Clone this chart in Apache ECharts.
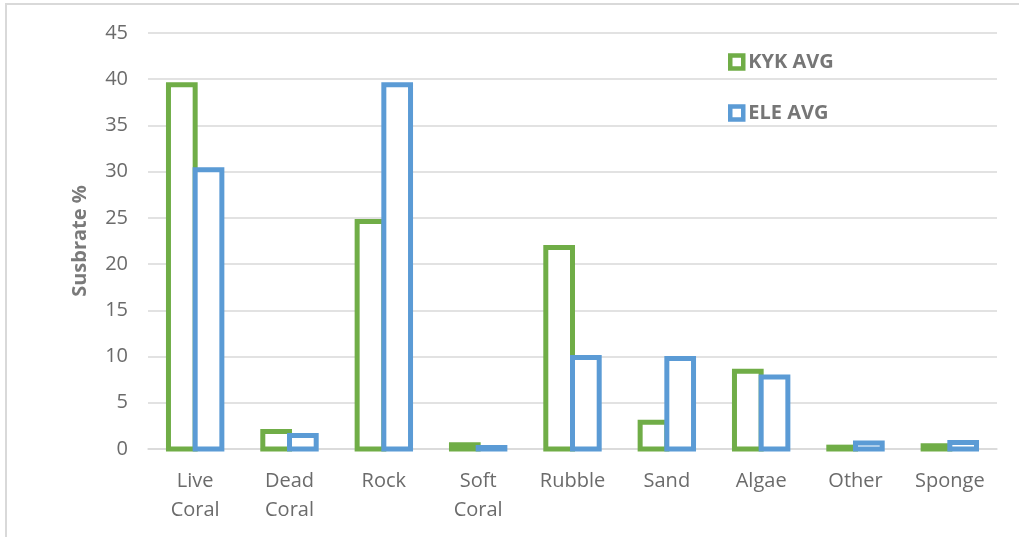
<!DOCTYPE html>
<html>
<head>
<meta charset="utf-8">
<title>Substrate cover</title>
<script src="https://cdn.jsdelivr.net/npm/echarts@6/dist/echarts.min.js"></script>
<style>
  html, body { margin: 0; padding: 0; background: #fff; }
  #chart { width: 1019px; height: 537px; }
</style>
</head>
<body>
<div id="chart"></div>
<script>
// Substrate categories along the x axis
const categories = ['Live\nCoral', 'Dead\nCoral', 'Rock', 'Soft\nCoral', 'Rubble', 'Sand', 'Algae', 'Other', 'Sponge'];

// Average substrate cover (%) per site
const kykAvg = [39.4, 1.9, 24.6, 0.45, 21.8, 2.9, 8.4, 0.2, 0.35];
const eleAvg = [30.2, 1.45, 39.4, 0.15, 9.9, 9.8, 7.8, 0.65, 0.7];

const seriesNames = ['KYK AVG', 'ELE AVG'];
const seriesColors = ['#70AD47', '#5B9BD5'];

// Value axis settings
const yMin = 0, yMax = 45, yStep = 5;

const chart = echarts.init(document.getElementById('chart'), null, { renderer: 'canvas' });

const textGray = '#6b6b6b';
const font = '"Open Sans", "Liberation Sans", sans-serif';

// Each bar takes this share of its category band; the two bars of a
// category sit edge to edge, with the outline centred on the bar edge.
const barShare = 0.283;
const outline = 5;

function outlinedBar(idx, data) {
  return {
    name: seriesNames[idx],
    type: 'custom',
    data: data.map((v, i) => [i, v]),
    encode: { x: 0, y: 1 },
    z: 2 + idx,
    renderItem: function (params, api) {
      const cat = api.value(0);
      const top = api.coord([cat, api.value(1)]);
      const base = api.coord([cat, 0]);
      const band = api.size([1, 0])[0];
      const w = band * barShare;
      const left = top[0] - w + idx * w;
      return {
        type: 'rect',
        shape: { x: left, y: top[1], width: w, height: base[1] - top[1] },
        style: { fill: '#ffffff', stroke: seriesColors[idx], lineWidth: outline }
      };
    }
  };
}

chart.setOption({
  animation: false,
  backgroundColor: '#ffffff',
  textStyle: { fontFamily: font },
  graphic: [{
    type: 'polyline',
    shape: { points: [[6, 537], [6, 4], [1019, 4]] },
    style: { stroke: '#d9d9d9', lineWidth: 2, fill: null },
    silent: true
  }],
  grid: { left: 148, right: 22, top: 33, bottom: 88, containLabel: false },
  legend: {
    orient: 'vertical',
    left: 728,
    top: 52,
    padding: 0,
    itemWidth: 13,
    itemHeight: 13,
    itemGap: 31,
    icon: 'rect',
    data: seriesNames.map((n, i) => ({
      name: n,
      icon: 'rect',
      itemStyle: { color: '#ffffff', borderColor: seriesColors[i], borderWidth: 4.5 }
    })),
    textStyle: { fontFamily: font, fontSize: 20, fontWeight: 'bold', color: '#767676' }
  },
  xAxis: {
    type: 'category',
    data: categories,
    axisLine: { show: true, lineStyle: { color: '#d9d9d9', width: 1.5 } },
    axisTick: { show: false },
    axisLabel: {
      margin: 18,
      fontFamily: font,
      fontSize: 20,
      color: textGray,
      lineHeight: 29,
      interval: 0
    }
  },
  yAxis: {
    type: 'value',
    min: yMin,
    max: yMax,
    interval: yStep,
    name: 'Susbrate %',
    nameLocation: 'middle',
    nameGap: 58,
    nameRotate: 90,
    nameTextStyle: { fontFamily: font, fontSize: 20, fontWeight: 'bold', color: '#7a7a7a' },
    axisLine: { show: false },
    axisTick: { show: false },
    axisLabel: { margin: 20, fontFamily: font, fontSize: 20, color: textGray },
    splitLine: { show: true, lineStyle: { color: '#d9d9d9', width: 1.5 } }
  },
  series: [
    outlinedBar(0, kykAvg),
    outlinedBar(1, eleAvg)
  ]
});
</script>
</body>
</html>
